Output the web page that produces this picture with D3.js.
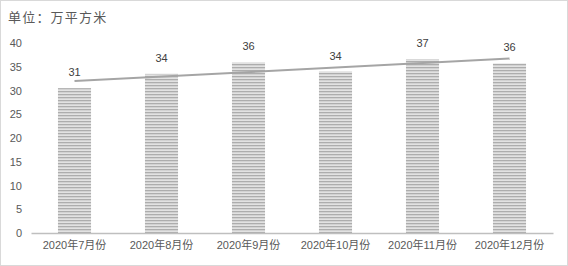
<!DOCTYPE html>
<html>
<head>
<meta charset="utf-8">
<script src="https://cdn.jsdelivr.net/npm/d3@7"></script>
<style>
body { margin:0; background:#fff; }
text { font-family: "Liberation Sans", "Noto Sans CJK SC", sans-serif; }
</style>
</head>
<body>
<svg id="chart"></svg>
<script>
var months = ["2020年7月份","2020年8月份","2020年9月份","2020年10月份","2020年11月份","2020年12月份"];
var areas = [30.5, 33.5, 35.9, 34.0, 36.6, 35.7];
var yTicks = [0, 5, 10, 15, 20, 25, 30, 35, 40];

var screen = {width:568, height:266};
var margins = {top:43, bottom:33, left:31, right:15};
var graph = {
    width: screen.width - margins.left - margins.right,
    height: screen.height - margins.top - margins.bottom
};

var svg = d3.select("#chart")
    .attr("width", screen.width)
    .attr("height", screen.height);

// border around the chart
svg.append("rect")
    .attr("x", 0.5).attr("y", 0.5)
    .attr("width", screen.width - 1).attr("height", screen.height - 1)
    .attr("fill", "#fff")
    .attr("stroke", "#d9d9d9");

// striped fill for bars
var pat = svg.append("defs").append("pattern")
    .attr("id", "stripes")
    .attr("patternUnits", "userSpaceOnUse")
    .attr("width", 8).attr("height", 3);
pat.append("rect").attr("width", 8).attr("height", 3).attr("fill", "#e2e2e2");
pat.append("rect").attr("width", 8).attr("height", 1.3).attr("fill", "#adadad");

svg.append("text")
    .text("单位：万平方米")
    .attr("x", 8).attr("y", 22)
    .attr("fill", "#595959")
    .style("font-size", "13px")
    .style("letter-spacing", "1.2px");

var xScale = d3.scaleBand()
    .domain(months)
    .range([0, graph.width])
    .paddingInner(0.62)
    .paddingOuter(0.31);

var yScale = d3.scaleLinear()
    .domain([0, 40])
    .range([graph.height, 0]);

var g = svg.append("g")
    .attr("transform", "translate(" + margins.left + "," + margins.top + ")");

// y axis labels
var yAxis = d3.axisLeft(yScale).tickValues(yTicks).tickSize(0).tickPadding(9);
g.append("g")
    .call(yAxis)
    .call(function(a) { a.select(".domain").remove(); })
    .selectAll("text")
    .attr("fill", "#595959")
    .style("font-size", "11px");

// bars
g.selectAll(".bar")
    .data(areas)
    .enter()
    .append("rect")
    .attr("x", function(d, i) { return xScale(months[i]); })
    .attr("y", function(d) { return yScale(d); })
    .attr("width", xScale.bandwidth())
    .attr("height", function(d) { return graph.height - yScale(d); })
    .attr("fill", "url(#stripes)");

// x axis
var xAxis = d3.axisBottom(xScale).tickSize(0).tickPadding(8);
var xa = g.append("g")
    .attr("transform", "translate(0," + graph.height + ")")
    .call(xAxis);
xa.select(".domain").attr("stroke", "#bfbfbf").attr("stroke-width", 1.5);
xa.selectAll("text")
    .attr("fill", "#595959")
    .style("font-size", "11px");

// linear trend line (least squares, like the spreadsheet trendline)
var n = areas.length;
var xm = d3.mean(areas, function(d, i) { return i; });
var ym = d3.mean(areas);
var sxy = d3.sum(areas, function(d, i) { return (i - xm) * (d - ym); });
var sxx = d3.sum(areas, function(d, i) { return (i - xm) * (i - xm); });
var slope = sxy / sxx;
var trend = [0, n - 1].map(function(i) { return {i: i, v: ym + slope * (i - xm)}; });

var line = d3.line()
    .x(function(d) { return xScale(months[d.i]) + xScale.bandwidth() / 2; })
    .y(function(d) { return yScale(d.v); });

g.append("path")
    .datum(trend)
    .attr("d", line)
    .attr("fill", "none")
    .attr("stroke", "#a5a5a5")
    .attr("stroke-width", 2);

// data labels
g.selectAll(".lbl")
    .data(areas)
    .enter()
    .append("text")
    .text(function(d) { return d3.format(".0f")(d); })
    .attr("x", function(d, i) { return xScale(months[i]) + xScale.bandwidth() / 2; })
    .attr("y", function(d) { return yScale(d) - 12; })
    .attr("text-anchor", "middle")
    .attr("fill", "#404040")
    .style("font-size", "11px");
</script>
</body>
</html>
